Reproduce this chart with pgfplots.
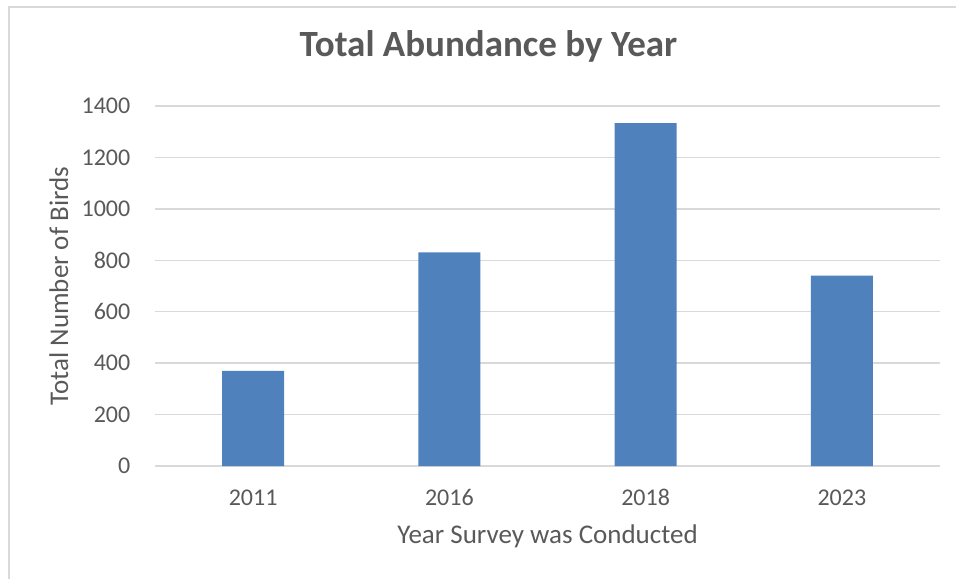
\documentclass[border=0pt]{standalone}
\usepackage{pgfplots}
\pgfplotsset{compat=1.18}
\usepackage{fontspec}
\setmainfont{Carlito}
\definecolor{txt}{HTML}{595959}
\definecolor{gridc}{HTML}{D9D9D9}
\definecolor{barc}{HTML}{4F81BD}
\begin{document}
\begin{tikzpicture}[x=1pt,y=1pt]
\useasboundingbox (0,0) rectangle (956,579);
\draw[gridc, line width=1.2pt] (9,0) -- (9,572) -- (956,572);
\begin{axis}[
  at={(155pt,113pt)}, anchor=south west,
  scale only axis, width=785pt, height=360pt,
  xmin=-0.5, xmax=3.5, ymin=0, ymax=1400,
  ytick={0,200,...,1400},
  xtick={0,1,2,3}, xticklabels={2011,2016,2018,2023},
  axis line style={draw=none},
  major tick length=0pt,
  ymajorgrids,
  grid style={gridc, line width=1.3pt},
  scaled y ticks=false,
  /pgf/number format/1000 sep={},
  /pgf/number format/assume math mode=true,
  ticklabel style={font=\fontsize{24}{28}\selectfont, text=txt, inner sep=0pt},
  yticklabel style={anchor=east, xshift=-24.5pt},
  xticklabel style={anchor=base, yshift=-39pt},
  xlabel={Year Survey was Conducted},
  ylabel={Total Number of Birds},
  label style={font=\fontsize{27}{31}\selectfont, text=txt, inner sep=0pt},
  xlabel style={at={(axis description cs:0.5,0)}, anchor=base, yshift=-77pt},
  ylabel style={at={(axis description cs:-0.1108,0.5)}, anchor=base},
  title={Total Abundance by Year},
  title style={at={(axis description cs:0.4248,1.1203)}, anchor=base, inner sep=0pt, font=\fontsize{37}{42}\selectfont\bfseries, text=txt},
  ybar, bar width=62pt,
]
\addplot[fill=barc, draw=none] coordinates {(0,370) (1,831) (2,1333) (3,740)};
\end{axis}
\end{tikzpicture}
\end{document}
